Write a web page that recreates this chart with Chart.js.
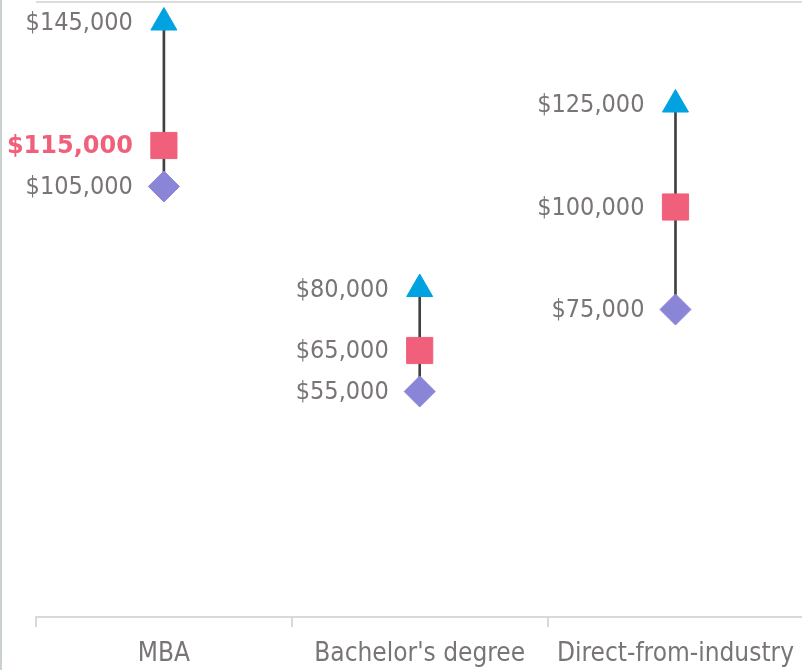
<!DOCTYPE html>
<html>
<head>
<meta charset="utf-8">
<script src="https://cdn.jsdelivr.net/npm/chart.js@4/dist/chart.umd.min.js"></script>
<style>
  html, body { margin: 0; padding: 0; background: #fff; overflow: hidden; }
  #wrap { position: relative; width: 802px; height: 670px; overflow: hidden; }
  #wrap canvas { position: absolute; left: 0; top: 0; }
  #edge { position: absolute; left: 0; top: 0; width: 2px; height: 670px; background: #c9d1d1; }
</style>
</head>
<body>
<div id="wrap"><canvas id="c" width="806" height="670"></canvas><div id="edge"></div></div>
<script>
const categories = ["MBA", "Bachelor's degree", "Direct-from-industry"];
const highValues = [145000, 80000, 125000];
const midValues = [115000, 65000, 100000];
const lowValues = [105000, 55000, 75000];
const highlightIndex = 0; // MBA mid label shown bold in pink

const textGray = '#7a7575';
const pink = '#f0607a';
const blue = '#00a2e0';
const purple = '#8b85d8';
const fontFamily = '"DejaVu Sans Condensed", "DejaVu Sans", sans-serif';

const fmt = v => '$' + v.toLocaleString('en-US');

const labelPlugin = {
  id: 'pointLabels',
  afterDatasetsDraw(chart) {
    const ctx = chart.ctx;
    ctx.save();
    ctx.textAlign = 'right';
    ctx.textBaseline = 'middle';
    [1, 2, 3].forEach(di => {
      const meta = chart.getDatasetMeta(di);
      const data = chart.data.datasets[di].data;
      meta.data.forEach((pt, i) => {
        const bold = (di === 2 && i === highlightIndex);
        ctx.font = bold ? 'bold 24px "DejaVu Sans", sans-serif' : '25px ' + fontFamily;
        ctx.fillStyle = bold ? pink : textGray;
        ctx.fillText(fmt(data[i]), pt.x - 31, pt.y + 1);
      });
    });
    ctx.restore();
  },
  beforeDraw(chart) {
    const { ctx, chartArea } = chart;
    ctx.save();
    ctx.strokeStyle = '#dcdcdc';
    ctx.lineWidth = 2;
    ctx.beginPath();
    ctx.moveTo(chartArea.left, chartArea.top);
    ctx.lineTo(chartArea.right, chartArea.top);
    ctx.stroke();
    ctx.restore();
  }
};

new Chart(document.getElementById('c'), {
  type: 'bar',
  data: {
    labels: categories,
    datasets: [
      {
        type: 'bar',
        data: lowValues.map((v, i) => [v, highValues[i]]),
        backgroundColor: '#404040',
        borderWidth: 0,
        barThickness: 2,
        order: 10
      },
      {
        type: 'line',
        data: highValues,
        showLine: false,
        pointStyle: 'triangle',
        pointRadius: 15,
        pointBackgroundColor: blue,
        pointBorderColor: blue,
        pointBorderWidth: 1,
        order: 1
      },
      {
        type: 'line',
        data: midValues,
        showLine: false,
        pointStyle: 'rect',
        pointRadius: 18.5,
        pointBackgroundColor: pink,
        pointBorderColor: pink,
        pointBorderWidth: 1,
        order: 1
      },
      {
        type: 'line',
        data: lowValues,
        showLine: false,
        pointStyle: 'rectRot',
        pointRadius: 15.5,
        pointBackgroundColor: purple,
        pointBorderColor: purple,
        pointBorderWidth: 1,
        order: 1
      }
    ]
  },
  options: {
    responsive: false,
    animation: false,
    events: [],
    layout: { autoPadding: false, padding: { left: 36, right: 0, top: 2, bottom: 0 } },
    plugins: { legend: { display: false }, tooltip: { enabled: false } },
    scales: {
      x: {
        offset: true,
        afterFit(scale) { scale.height = 53; },
        grid: {
          offset: true,
          drawOnChartArea: false,
          drawTicks: true,
          tickLength: 10,
          color: '#d9d9d9',
          lineWidth: 2
        },
        border: { display: true, color: '#d9d9d9', width: 2 },
        ticks: {
          color: textGray,
          padding: 12,
          font: { family: fontFamily, size: 26 },
          maxRotation: 0,
          autoSkip: false
        }
      },
      y: {
        display: false,
        min: 0,
        max: 150000
      }
    }
  },
  plugins: [labelPlugin]
});
</script>
</body>
</html>
